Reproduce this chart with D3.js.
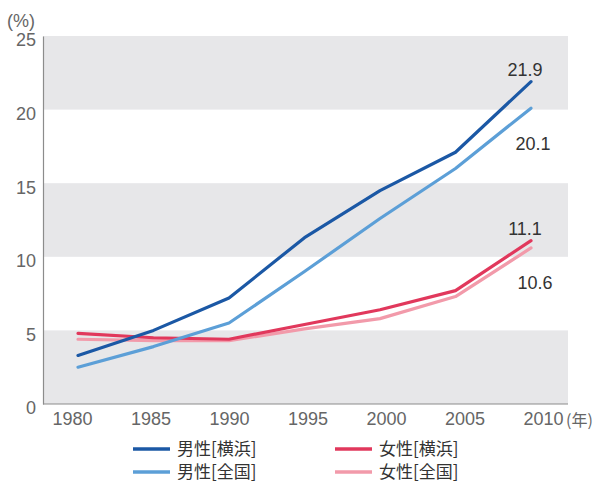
<!DOCTYPE html>
<html>
<head>
<meta charset="utf-8">
<script src="https://cdn.jsdelivr.net/npm/d3@7/dist/d3.min.js"></script>
<style>
  html, body { margin: 0; padding: 0; background: #fff; }
  svg { display: block; }
</style>
</head>
<body>
<svg id="chart" width="600" height="483"></svg>
<script>
// Census years
const years = [1980, 1985, 1990, 1995, 2000, 2005, 2010];

// Share (%) per series
const maleYokohama   = [3.3, 5.0, 7.2, 11.3, 14.5, 17.1, 21.9];
const maleNational   = [2.5, 3.9, 5.5, 9.0, 12.6, 16.0, 20.1];
const femaleYokohama = [4.8, 4.5, 4.4, 5.4, 6.4, 7.7, 11.1];
const femaleNational = [4.4, 4.3, 4.3, 5.1, 5.8, 7.3, 10.6];

const seriesNames = ["男性[横浜]", "男性[全国]", "女性[横浜]", "女性[全国]"];
const yTicks = [0, 5, 10, 15, 20, 25];
const xTicks = [1980, 1985, 1990, 1995, 2000, 2005, 2010];

const series = [
  { name: seriesNames[0], values: maleYokohama,   color: "#1b58a5", label: "21.9", lx: -6,  ly: -12 },
  { name: seriesNames[1], values: maleNational,   color: "#5c9fd7", label: "20.1", lx: 2,   ly: 36 },
  { name: seriesNames[2], values: femaleYokohama, color: "#e1385c", label: "11.1", lx: -6,  ly: -12 },
  { name: seriesNames[3], values: femaleNational, color: "#f29aaa", label: "10.6", lx: 4,   ly: 35 }
];

const svg = d3.select("#chart");
const plotLeft = 43, plotRight = 568, plotTop = 36, plotBottom = 404;

const x = d3.scaleLinear().domain([1980, 2010]).range([78, 531]);
const xLabel = d3.scaleLinear().domain([1980, 2010]).range([72, 543]);
const y = d3.scaleLinear().domain([0, 25]).range([plotBottom, plotTop]);

// alternating background bands
const bands = [[0, 5], [10, 15], [20, 25]];
svg.append("g").selectAll("rect").data(bands).join("rect")
  .attr("x", plotLeft)
  .attr("width", plotRight - plotLeft)
  .attr("y", d => y(d[1]))
  .attr("height", d => y(d[0]) - y(d[1]))
  .attr("fill", "#e7e7e9");

// y axis
const yAxis = svg.append("g")
  .attr("transform", `translate(${plotLeft},0)`)
  .call(d3.axisLeft(y).tickValues(yTicks).tickSize(0).tickPadding(7));
yAxis.select(".domain").attr("stroke", "#8c8c8c").attr("stroke-width", 1.2);
yAxis.selectAll("text")
  .attr("dy", "0.55em")
  .attr("fill", "#666")
  .style("font-family", "'Liberation Sans', Arial, sans-serif")
  .style("font-size", "18px");

// x baseline
svg.append("line")
  .attr("x1", plotLeft).attr("x2", plotRight)
  .attr("y1", plotBottom).attr("y2", plotBottom)
  .attr("stroke", "#8c8c8c").attr("stroke-width", 1.2);

// x axis labels
const xAxis = svg.append("g")
  .attr("transform", `translate(0,${plotBottom})`)
  .call(d3.axisBottom(xLabel).tickValues(xTicks).tickFormat(d3.format("d")).tickSize(0).tickPadding(8));
xAxis.select(".domain").remove();
xAxis.selectAll("text")
  .attr("fill", "#666")
  .style("font-family", "'Liberation Sans', Arial, sans-serif")
  .style("font-size", "18px");

// unit labels
svg.append("text")
  .attr("x", 7).attr("y", 27)
  .attr("fill", "#666")
  .style("font-family", "'Liberation Sans', Arial, sans-serif")
  .style("font-size", "18px")
  .text("(%)");
svg.append("text")
  .attr("x", 566).attr("y", 426)
  .attr("fill", "#666")
  .style("font-family", "'Noto Sans CJK JP', sans-serif")
  .style("font-size", "16px")
  .text("(年)");

// series lines
const line = d3.line()
  .x((d, i) => x(years[i]))
  .y(d => y(d));

svg.append("g").selectAll("path").data(series.slice().reverse()).join("path")
  .attr("d", d => line(d.values))
  .attr("fill", "none")
  .attr("stroke", d => d.color)
  .attr("stroke-width", 3.2)
  .attr("stroke-linejoin", "round")
  .attr("stroke-linecap", "round");

// end-value labels
svg.append("g").selectAll("text").data(series).join("text")
  .attr("x", d => x(2010) + d.lx)
  .attr("y", d => y(d.values[d.values.length - 1]) + d.ly)
  .attr("dy", "0.35em")
  .attr("text-anchor", "middle")
  .attr("fill", "#333")
  .style("font-family", "'Liberation Sans', Arial, sans-serif")
  .style("font-size", "18px")
  .text(d => d.label);

// legend
const legendPos = [
  { lx: 133, ly: 449 },
  { lx: 133, ly: 472 },
  { lx: 335, ly: 449 },
  { lx: 335, ly: 472 }
];
const legend = svg.append("g").selectAll("g").data(series).join("g")
  .attr("transform", (d, i) => `translate(${legendPos[i].lx},${legendPos[i].ly})`);
legend.append("line")
  .attr("x1", 0).attr("x2", 37)
  .attr("stroke", d => d.color)
  .attr("stroke-width", 3.5);
legend.append("text")
  .attr("x", 44)
  .attr("dy", "0.36em")
  .attr("fill", "#333")
  .style("font-family", "'Noto Sans CJK JP', sans-serif")
  .style("font-size", "17px")
  .text(d => d.name);
</script>
</body>
</html>
